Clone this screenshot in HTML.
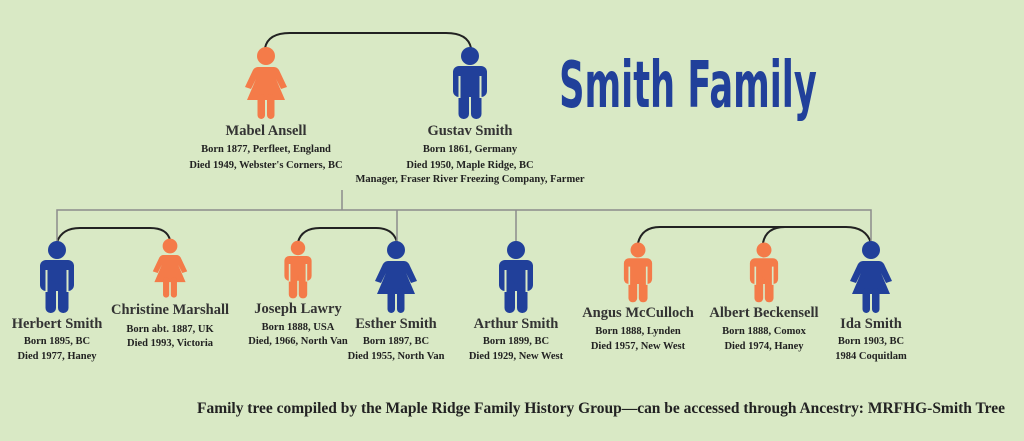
<!DOCTYPE html>
<html><head><meta charset="utf-8"><style>
html,body{margin:0;padding:0;background:#d9e9c5;}
svg{display:block}
text{font-family:"Liberation Serif",serif;fill:#222;text-anchor:middle}
.n{font-size:14.5px;font-weight:bold;fill:#333}
.d{font-size:10.5px;font-weight:bold}
</style></head><body>
<svg width="1024" height="441" viewBox="0 0 1024 441" xmlns="http://www.w3.org/2000/svg">
<defs>
<g id="m">
<circle cx="0" cy="0" r="9"/>
<rect x="-17" y="10" width="34" height="31" rx="6"/>
<rect x="-11.5" y="30" width="10.5" height="33" rx="5"/>
<rect x="1" y="30" width="10.5" height="33" rx="5"/>
<line x1="-10.5" y1="20" x2="-10.5" y2="42" stroke="#d9e9c5" stroke-width="2"/>
<line x1="10.5" y1="20" x2="10.5" y2="42" stroke="#d9e9c5" stroke-width="2"/>
</g>
<g id="f">
<circle cx="0" cy="0" r="9"/>
<path d="M-8,11 L8,11 Q11,11 13,14 L21,31 L15,33 L10,23 L19,44 L-19,44 L-10,23 L-15,33 L-21,31 L-13,14 Q-11,11 -8,11Z"/>
<rect x="-8.5" y="38" width="7.5" height="25" rx="3.7"/>
<rect x="1" y="38" width="7.5" height="25" rx="3.7"/>
</g>
</defs>
<g fill="none" stroke="#222" stroke-width="2">
<path d="M265,48 Q268,33 290,33 L446,33 Q468,33 471,48"/>
<path d="M57,242 Q62,228 80,228 L150,228 Q167,228 170,240"/>
<path d="M298,242 Q302,228 320,228 L376,228 Q393,228 397,242"/>
<path d="M638,243 Q642,227 660,227 L846,227 Q866,227 871,243"/>
<path d="M763,243 Q766,227 785,227"/>
</g>
<g fill="none" stroke="#8c8c8c" stroke-width="1.5">
<path d="M342,190 V210 M57,242 V210 H871 V242 M397,210 V242 M516,210 V242"/>
</g>
<g fill="#f47b49">
<use href="#f" transform="translate(266,56)"/>
<use href="#f" transform="translate(170,246) scale(0.82)"/>
<use href="#m" transform="translate(298,248) scale(0.8)"/>
<use href="#m" transform="translate(638,250) scale(0.83)"/>
<use href="#m" transform="translate(764,250) scale(0.83)"/>
</g>
<g fill="#21409a">
<use href="#m" transform="translate(470,56)"/>
<use href="#m" transform="translate(57,250)"/>
<use href="#f" transform="translate(396,250)"/>
<use href="#m" transform="translate(516,250)"/>
<use href="#f" transform="translate(871,250)"/>
</g>
<text x="688" y="107" transform="translate(688,0) scale(0.55,1) translate(-688,0)" style="font-family:'DejaVu Sans','Liberation Sans',sans-serif;font-size:64px;font-weight:bold;fill:#21409a">Smith Family</text>

<text class="n" x="266" y="135">Mabel Ansell</text>
<text class="d" x="266" y="152">Born 1877, Perfleet, England</text>
<text class="d" x="266" y="168">Died 1949, Webster's Corners, BC</text>
<text class="n" x="470" y="135">Gustav Smith</text>
<text class="d" x="470" y="152">Born 1861, Germany</text>
<text class="d" x="470" y="168">Died 1950, Maple Ridge, BC</text>
<text class="d" x="470" y="182">Manager, Fraser River Freezing Company, Farmer</text>

<text class="n" x="57" y="328">Herbert Smith</text>
<text class="d" x="57" y="344">Born 1895, BC</text>
<text class="d" x="57" y="359">Died 1977, Haney</text>
<text class="n" x="170" y="314">Christine Marshall</text>
<text class="d" x="170" y="332">Born abt. 1887, UK</text>
<text class="d" x="170" y="346">Died 1993, Victoria</text>
<text class="n" x="298" y="313">Joseph Lawry</text>
<text class="d" x="298" y="330">Born 1888, USA</text>
<text class="d" x="298" y="344">Died, 1966, North Van</text>
<text class="n" x="396" y="328">Esther Smith</text>
<text class="d" x="396" y="344">Born 1897, BC</text>
<text class="d" x="396" y="359">Died 1955, North Van</text>
<text class="n" x="516" y="328">Arthur Smith</text>
<text class="d" x="516" y="344">Born 1899, BC</text>
<text class="d" x="516" y="359">Died 1929, New West</text>
<text class="n" x="638" y="317">Angus McCulloch</text>
<text class="d" x="638" y="334">Born 1888, Lynden</text>
<text class="d" x="638" y="349">Died 1957, New West</text>
<text class="n" x="764" y="317">Albert Beckensell</text>
<text class="d" x="764" y="334">Born 1888, Comox</text>
<text class="d" x="764" y="349">Died 1974, Haney</text>
<text class="n" x="871" y="328">Ida Smith</text>
<text class="d" x="871" y="344">Born 1903, BC</text>
<text class="d" x="871" y="359">1984 Coquitlam</text>

<text x="1005" y="413" textLength="808" lengthAdjust="spacingAndGlyphs" style="text-anchor:end;font-size:15.5px;font-weight:bold;fill:#222">Family tree compiled by the Maple Ridge Family History Group—can be accessed through Ancestry: MRFHG-Smith Tree</text>
</svg>
</body></html>
